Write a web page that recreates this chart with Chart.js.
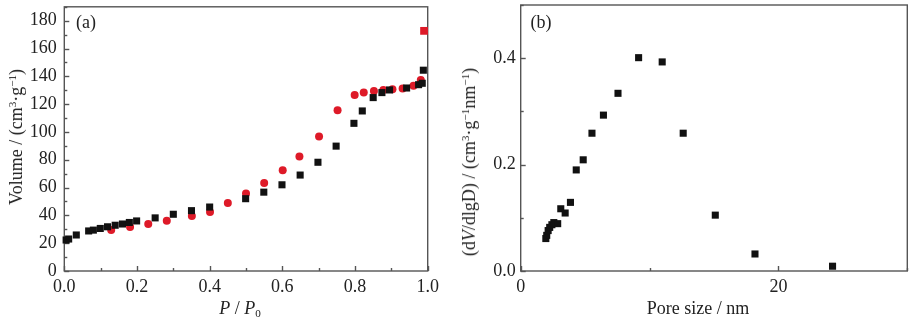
<!DOCTYPE html>
<html>
<head>
<meta charset="utf-8">
<script src="https://cdn.jsdelivr.net/npm/chart.js@4.4.1/dist/chart.umd.min.js"></script>
<style>
  html,body{margin:0;padding:0;background:#fff;}
  #wrap{position:relative;width:915px;height:324px;background:#fff;overflow:hidden;}
  .pane{position:absolute;top:0;}
  .pane canvas{display:block;}
  .lbl{position:absolute;font-family:"Liberation Serif","Times New Roman",serif;color:#222;white-space:nowrap;font-size:18px;line-height:1;}
  .c{transform:translate(-50%,-50%);}
  .r{transform:translate(-50%,-50%) rotate(-90deg);}
  .sup{font-size:0.62em;position:relative;top:-0.55em;}
  .sub{font-size:0.62em;position:relative;top:0.3em;}
</style>
</head>
<body>
<div id="wrap">
  <div class="pane" style="left:0;width:440px;height:324px;"><canvas id="c1" width="440" height="324"></canvas></div>
  <div class="pane" style="left:450px;width:465px;height:324px;"><canvas id="c2" width="465" height="324"></canvas></div>
  <div class="lbl c" style="left:86px;top:22px;">(a)</div>
  <div class="lbl c" style="left:541px;top:22px;">(b)</div>
  <div class="lbl r" style="left:16px;top:137px;">Volume / (cm<span class="sup">3</span>·g<span class="sup">−1</span>)</div>
  <div class="lbl c" style="left:240px;top:308px;"><i>P</i> / <i>P</i><span class="sub">0</span></div>
  <div class="lbl r" style="left:469px;top:162px;">(d<i>V</i>/dlgD) / (cm<span class="sup">3</span>·g<span class="sup">−1</span>nm<span class="sup">−1</span>)</div>
  <div class="lbl c" style="left:698px;top:308px;">Pore size / nm</div>
</div>
<script>
// ---- data: (a) N2 isotherm ----
const adsX = [0.005,0.012,0.033,0.067,0.080,0.099,0.119,0.140,0.160,0.179,0.199,0.250,0.300,0.350,0.400,0.499,0.549,0.599,0.649,0.698,0.748,0.797,0.820,0.850,0.874,0.895,0.942,0.975,0.985,0.988];
const adsY = [22.3,23.0,25.9,28.8,29.4,30.6,31.8,32.9,33.8,34.9,36.0,38.2,40.8,43.4,46.0,52.0,56.7,62.0,69.0,78.2,89.8,106.2,115.1,124.7,128.3,130.2,131.6,134.0,135.0,144.4];
const desX = [0.129,0.181,0.231,0.282,0.351,0.401,0.450,0.500,0.550,0.601,0.647,0.701,0.752,0.799,0.824,0.852,0.878,0.903,0.931,0.961,0.981,0.990];
const desY = [29.5,31.7,33.8,36.2,39.5,42.4,48.9,55.7,63.3,72.5,82.3,96.8,115.6,126.6,128.4,129.5,130.2,130.7,131.3,133.3,137.4,172.7];
// ---- data: (b) pore size distribution ----
const psdX = [1.95,2.02,2.13,2.25,2.42,2.57,2.87,3.11,3.45,3.86,4.31,4.85,5.53,6.42,7.55,9.15,10.98,12.61,15.1,18.18,24.2];
const psdY = [0.061,0.067,0.076,0.082,0.087,0.091,0.089,0.117,0.109,0.129,0.190,0.209,0.259,0.293,0.334,0.401,0.393,0.259,0.105,0.032,0.009];
// ---- tick labels ----
const aXLabels = [0.0,0.2,0.4,0.6,0.8,1.0];
const aYLabels = [0,20,40,60,80,100,120,140,160,180];
const bXLabels = [0,20];
const bYLabels = [0.0,0.2,0.4];

const pts = (xs, ys) => xs.map((x,i)=>({x:x, y:ys[i]}));
const has = (arr, v) => arr.some(l => Math.abs(l - v) < 1e-9);
const tickFont = {family:'"Liberation Serif","Times New Roman",serif', size:18};

const framePlugin = {
  id:'frame',
  beforeDatasetsDraw(chart){
    const {ctx, chartArea:a, scales} = chart;
    ctx.save();
    ctx.strokeStyle = '#555';
    ctx.lineWidth = 1.4;
    const xs = scales.x, ys = scales.y;
    xs.ticks.forEach(t=>{
      const p = Math.round(xs.getPixelForValue(t.value))+0.5;
      const len = t.label !== '' ? 5 : 3;
      ctx.beginPath(); ctx.moveTo(p, a.bottom); ctx.lineTo(p, a.bottom-len); ctx.stroke();
    });
    ys.ticks.forEach(t=>{
      const p = Math.round(ys.getPixelForValue(t.value))+0.5;
      const len = t.label !== '' ? 5 : 3;
      ctx.beginPath(); ctx.moveTo(a.left, p); ctx.lineTo(a.left+len, p); ctx.stroke();
    });
    ctx.strokeRect(a.left, a.top, a.width, a.height);
    ctx.restore();
  }
};

function axis(min, max, step, labels, fmt, pad, fitFn){
  return {
    type:'linear', min:min, max:max,
    grid:{display:false, drawTicks:false},
    border:{display:false},
    ticks:{stepSize:step, autoSkip:false, maxRotation:0, padding:pad, color:'#222', font:tickFont,
      callback:(v)=> has(labels, v) ? fmt(v) : ''},
    afterFit: (s)=>{ fitFn(s); s.paddingTop = 0; s.paddingBottom = 0; s.paddingLeft = 0; s.paddingRight = 0; }
  };
}

const common = {
  responsive:false, animation:false,
  plugins:{legend:{display:false}, tooltip:{enabled:false}},
};

new Chart(document.getElementById('c1'), {
  type:'scatter',
  data:{datasets:[
    {data:pts(adsX, adsY), pointStyle:'rect', pointRadius:5, backgroundColor:'#111', borderColor:'#111', borderWidth:0, clip:false},
    {data:pts(desX, desY), pointStyle:desX.map((x,i)=> i===desX.length-1 ? 'rect':'circle'),
     pointRadius:desX.map((x,i)=> i===desX.length-1 ? 5.5 : 4), backgroundColor:'#de1a28', borderColor:'#de1a28', borderWidth:0, clip:false}
  ]},
  options:Object.assign({}, common, {
    layout:{padding:{left:0, right:12.3, top:6.8, bottom:0}},
    scales:{
      x: axis(0, 1, 0.1, aXLabels, v=>v.toFixed(1), 5, s=>{s.height = 53;}),
      y: axis(0, 190, 10, aYLabels, v=>String(Math.round(v)), 7.5, s=>{s.width = 64.3;})
    }
  }),
  plugins:[framePlugin]
});

new Chart(document.getElementById('c2'), {
  type:'scatter',
  data:{datasets:[
    {data:pts(psdX, psdY), pointStyle:'rect', pointRadius:5, backgroundColor:'#111', borderColor:'#111', borderWidth:0, clip:false}
  ]},
  options:Object.assign({}, common, {
    layout:{padding:{left:0, right:7.7, top:3.5, bottom:0}},
    scales:{
      x: axis(0, 30, 10, bXLabels, v=>String(Math.round(v)), 5, s=>{s.height = 53;}),
      y: axis(0, 0.5, 0.1, bYLabels, v=>v.toFixed(1), 5, s=>{s.width = 70.7;})
    }
  }),
  plugins:[framePlugin]
});
</script>
</body>
</html>
